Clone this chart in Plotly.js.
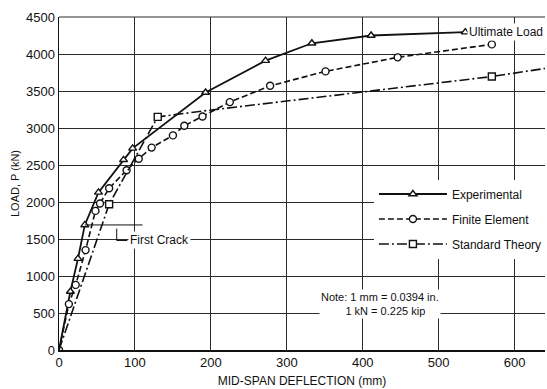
<!DOCTYPE html>
<html>
<head>
<meta charset="utf-8">
<script src="https://cdn.plot.ly/plotly-3.0.1.min.js"></script>
<style>
  html, body { margin: 0; padding: 0; background: #fff; }
  #chart { width: 547px; height: 389px; }
</style>
</head>
<body>
<div id="chart"></div>
<script>
// Mid-span deflection (mm) vs load P (kN)
const expDefl = [0, 15, 25, 34, 52, 85, 97, 193, 272, 333, 411, 535];
const expLoad = [0, 790, 1235, 1690, 2130, 2570, 2725, 3480, 3910, 4145, 4250, 4295];

const feDefl = [0, 13, 22, 35, 48, 54, 66, 89, 105, 122, 150, 165, 189, 225, 278, 351, 446, 570];
const feLoad = [0, 620, 880, 1350, 1880, 1980, 2185, 2430, 2585, 2735, 2900, 3030, 3155, 3350, 3570, 3765, 3955, 4130];

const stdDefl = [0, 66, 130, 190, 570, 640];
const stdLoad = [0, 1970, 3150, 3230, 3695, 3805];
const stdMarkDefl = [66, 130, 570];
const stdMarkLoad = [1970, 3150, 3695];

const xTicks = [0, 100, 200, 300, 400, 500, 600];
const yTicks = [0, 500, 1000, 1500, 2000, 2500, 3000, 3500, 4000, 4500];

const firstCrackLoad = 1690;

const ink = '#111';
const font = 'Liberation Sans, Arial, sans-serif';

const markerBase = (symbol) => ({
  symbol: symbol, size: 7, color: '#fff',
  line: { color: ink, width: 1.4 }
});

const dashDot = '10px,3px,2px,3px';

const traces = [
  {
    name: 'Experimental', x: expDefl, y: expLoad, mode: 'lines+markers',
    line: { color: ink, width: 1.8 },
    marker: markerBase('triangle-up'), legendgroup: 'exp'
  },
  {
    name: 'Finite Element', x: feDefl, y: feLoad, mode: 'lines+markers',
    line: { color: ink, width: 1.6, dash: '6px,3px' },
    marker: markerBase('circle'), legendgroup: 'fe'
  },
  {
    name: 'Standard Theory', x: stdDefl, y: stdLoad, mode: 'lines',
    line: { color: ink, width: 1.6, dash: dashDot },
    showlegend: false, legendgroup: 'std'
  },
  {
    name: 'Standard Theory', x: stdMarkDefl, y: stdMarkLoad, mode: 'markers',
    marker: markerBase('square'), legendgroup: 'std', showlegend: false
  },
  {
    // legend entry for the dash-dot series with a visible sample line
    name: 'Standard Theory', x: [null], y: [null], mode: 'lines+markers',
    line: { color: ink, width: 1.6, dash: dashDot },
    marker: markerBase('square'), legendgroup: 'std'
  }
];

const layout = {
  width: 547, height: 389,
  margin: { l: 59, r: 0, t: 17, b: 39 },
  paper_bgcolor: '#fff', plot_bgcolor: '#fff',
  font: { family: font, color: ink, size: 12 },
  showlegend: true,
  legend: {
    x: 0.648, y: 0.512, xanchor: 'left', yanchor: 'top',
    bgcolor: '#fff', borderwidth: 0,
    font: { family: font, size: 12, color: ink },
    traceorder: 'grouped', tracegroupgap: 6, itemwidth: 68
  },
  xaxis: {
    range: [0, 640], tickvals: xTicks, ticks: '',
    showgrid: true, gridcolor: '#2a2a2a', gridwidth: 1,
    zeroline: false, showline: true, linecolor: ink, linewidth: 1.5,
    tickfont: { family: font, size: 13, color: ink },
    title: { text: 'MID-SPAN DEFLECTION (mm)', standoff: 7,
             font: { family: font, size: 12, color: ink } }
  },
  yaxis: {
    range: [0, 4500], tickvals: yTicks, ticks: '',
    showgrid: true, gridcolor: '#2a2a2a', gridwidth: 1,
    zeroline: false, showline: true, linecolor: ink, linewidth: 1.5,
    tickfont: { family: font, size: 13, color: ink },
    title: { text: 'LOAD, P (kN)', standoff: 4,
             font: { family: font, size: 11, color: ink } }
  },
  shapes: [
    { type: 'line', xref: 'x', yref: 'paper', x0: 0, x1: 640, y0: 1, y1: 1,
      line: { color: '#2a2a2a', width: 1 } },
    { type: 'line', xref: 'x', yref: 'y', x0: 34, x1: 110,
      y0: firstCrackLoad, y1: firstCrackLoad, line: { color: ink, width: 1 } },
    { type: 'path', xref: 'x', yref: 'y',
      path: 'M 76 1640 L 76 1480 L 90 1480', line: { color: ink, width: 1 } }
  ],
  annotations: [
    { x: 537, y: 4295, xref: 'x', yref: 'y', text: 'Ultimate Load',
      showarrow: false, xanchor: 'left', yanchor: 'middle',
      font: { family: font, size: 12, color: ink }, bgcolor: '#fff' },
    { x: 91, y: 1480, xref: 'x', yref: 'y', text: 'First Crack',
      showarrow: false, xanchor: 'left', yanchor: 'middle',
      font: { family: font, size: 12, color: ink }, bgcolor: '#fff' },
    { x: 342, y: 620, xref: 'x', yref: 'y',
      text: 'Note: 1 mm = 0.0394 in.<br>        1 kN = 0.225 kip',
      showarrow: false, xanchor: 'left', yanchor: 'middle', align: 'left',
      font: { family: font, size: 11, color: ink }, bgcolor: '#fff' }
  ]
};

Plotly.newPlot('chart', traces, layout, { staticPlot: true, displayModeBar: false });
</script>
</body>
</html>
